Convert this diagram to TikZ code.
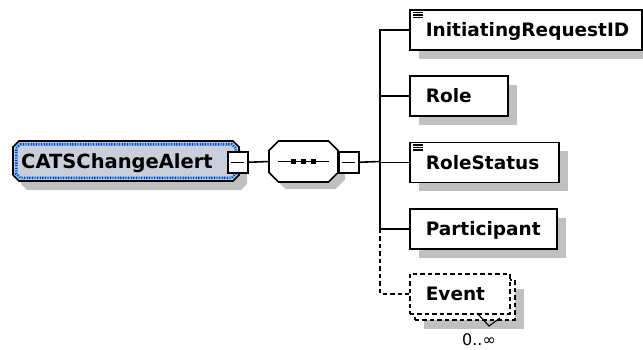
\documentclass[tikz,border=0pt]{standalone}
\usepackage{fontspec}
\setmainfont{DejaVu Sans}
\usetikzlibrary{shadows}
\definecolor{shadowgray}{RGB}{192,192,192}
\definecolor{catsfill}{RGB}{202,206,218}
\definecolor{dotblue}{RGB}{30,30,215}
\definecolor{dotcyan}{RGB}{70,205,235}
% octagon path around node #2, chamfer #3, inset #4, options #1
\newcommand\octo[4]{\path[#1] ([xshift=#4+#3,yshift=-#4]#2.north west) -- ([xshift=-#4-#3,yshift=-#4]#2.north east) -- ([xshift=-#4,yshift=-#4-#3]#2.north east) -- ([xshift=-#4,yshift=#4+#3]#2.south east) -- ([xshift=-#4-#3,yshift=#4]#2.south east) -- ([xshift=#4+#3,yshift=#4]#2.south west) -- ([xshift=#4,yshift=#4+#3]#2.south west) -- ([xshift=#4,yshift=-#4-#3]#2.north west) -- cycle;}
\newcommand\attricon[1]{\foreach \d in {3.5,6,8.5} {\draw[line width=1.2pt] ([xshift=4pt,yshift=-\d*1pt]#1.north west) -- ([xshift=14pt,yshift=-\d*1pt]#1.north west);}}
\tikzset{
  lbl/.style={font=\fontsize{19.5}{22}\selectfont\bfseries, inner sep=0pt},
  frame/.style={draw=none, inner sep=0pt, outer sep=0pt, anchor=north west},
  elem/.style={draw, fill=white, line width=1.6pt, minimum height=40pt,
    text height=13.5pt, text depth=0pt, inner xsep=16pt, inner ysep=0pt,
    anchor=north west, align=left, font=\fontsize{18.5}{21}\selectfont\bfseries},
  shadowed/.style={drop shadow={shadow xshift=9pt, shadow yshift=-9pt, fill=shadowgray, opacity=1}},
  optdash/.style={dash pattern=on 4.5pt off 3pt},
  minusbox/.style={draw, fill=white, line width=1.5pt, minimum width=20pt,
    minimum height=21pt, inner sep=0pt, anchor=north west,
    path picture={\draw[line width=1.5pt] ([xshift=3.5pt]path picture bounding box.west) -- ([xshift=-3.5pt]path picture bounding box.east);}},
  conn/.style={line width=1.6pt}
}
\begin{document}
\begin{tikzpicture}[x=1pt,y=-1pt]
\useasboundingbox (0,0) rectangle (643,349);
% ---- root element
\node[frame, minimum width=226pt, minimum height=40pt] (cats) at (13,141) {};
\octo{fill=shadowgray, transform canvas={shift={(8pt,-9pt)}}}{cats}{6pt}{0pt}
\octo{draw=black, line width=1.7pt, fill=catsfill}{cats}{6pt}{0pt}
\octo{draw=dotblue, line width=2.6pt, dash pattern=on 1.3pt off 1.3pt}{cats}{4pt}{3.2pt}
\octo{draw=dotcyan, line width=2.6pt, dash pattern=on 1.3pt off 1.3pt, dash phase=1.3pt}{cats}{4pt}{3.2pt}
\node[lbl, anchor=base west] (catslbl) at ([xshift=8pt,yshift=-7pt]cats.west) {CATSChangeAlert};
\node[minusbox] (cm) at (227,151) {};
% ---- sequence compositor
\node[frame, minimum width=69pt, minimum height=41pt] (seq) at (269,141) {};
\octo{fill=shadowgray, transform canvas={shift={(7pt,-7pt)}}}{seq}{9.5pt}{0pt}
\octo{draw=black, line width=1.7pt, fill=white}{seq}{9.5pt}{0pt}
\draw[line width=1.5pt] ([xshift=9pt]seq.west) -- ([xshift=-9pt]seq.east);
\foreach \o in {-10,0,10} {\fill ([xshift=\o*1pt]seq.center) +(-2.7pt,-2.7pt) rectangle +(2.7pt,2.7pt);}
\node[minusbox] (sm) at (338,151) {};
% ---- children
\node[elem, shadowed, text width=200pt] (ireq) at (409,9) {InitiatingRequestID};
\attricon{ireq}
\node[elem, shadowed, text width=66pt] (role) at (409,75) {Role};
\node[elem, shadowed, text width=117pt] (rstat) at (409,141.5) {RoleStatus};
\attricon{rstat}
\node[elem, shadowed, text width=115pt] (part) at (409,208) {Participant};
\node[elem, shadowed, optdash, text width=68pt] (evback) at (414,279) {};
\node[elem, optdash, text width=68pt] (event) at (409,273) {Event};
% ---- cardinality
\draw[line width=1.1pt] (477,313) -- (489,326) -- (500,318);
\node[font=\fontsize{16}{18}\selectfont, inner sep=0pt] (card) at (479,339.5) {0..∞};
% ---- connectors
\draw[conn] (cm.east) -- (seq.west);
\coordinate (bus) at (380,161.5);
\draw[conn] (sm.east) -- (bus);
\draw[conn] (ireq.west) -| (bus |- part.west) -- (part.west);
\draw[conn] (role.west) -- (bus |- role.west);
\draw[conn] (rstat.west) -- (bus |- rstat.west);
\draw[conn, optdash] (bus |- part.west) |- (event.west);
\end{tikzpicture}
\end{document}
